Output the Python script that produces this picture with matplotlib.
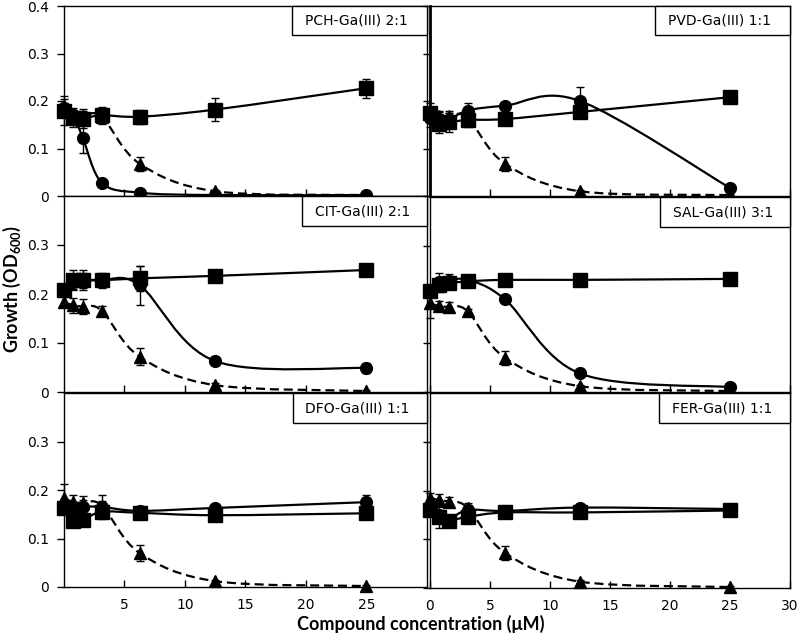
import numpy as np
import matplotlib
matplotlib.use("Agg")
import matplotlib.pyplot as plt
from matplotlib.path import Path
from matplotlib.patches import PathPatch, Rectangle

plt.rcParams["font.family"] = ["DejaVu Sans"]
plt.rcParams["mathtext.fontset"] = "custom"
plt.rcParams["mathtext.bf"] = "Lato:bold"
plt.rcParams["mathtext.rm"] = "Lato:bold"
plt.rcParams["lines.scale_dashes"] = False

# concentrations (uM)
conc = [0, 0.78, 1.56, 3.125, 6.25, 12.5, 25]

# PCH-Ga(III) 2:1
pch_sq = [0.180, 0.165, 0.163, 0.170, 0.167, 0.182, 0.227]
pch_sq_err = [0.030, 0.020, 0.020, 0.018, 0.015, 0.025, 0.020]
pch_ci = [0.185, 0.170, 0.122, 0.028, 0.007, 0.002, 0.002]
pch_ci_err = [0.010, 0.010, 0.032, 0.004, 0.003, 0.002, 0.002]
pch_tr = [0.190, 0.170, 0.168, 0.167, 0.068, 0.010, 0.002]
pch_tr_err = [0.015, 0.010, 0.010, 0.010, 0.015, 0.003, 0.002]

# PVD-Ga(III) 1:1
pvd_sq = [0.175, 0.152, 0.155, 0.160, 0.162, 0.177, 0.208]
pvd_sq_err = [0.020, 0.020, 0.020, 0.015, 0.005, 0.005, 0.005]
pvd_ci = [0.165, 0.162, 0.160, 0.180, 0.190, 0.200, 0.017]
pvd_ci_err = [0.020, 0.015, 0.015, 0.015, 0.005, 0.030, 0.005]
pvd_tr = [0.175, 0.168, 0.168, 0.165, 0.068, 0.010, 0.002]
pvd_tr_err = [0.010, 0.010, 0.010, 0.010, 0.015, 0.003, 0.002]

# CIT-Ga(III) 2:1
cit_sq = [0.208, 0.228, 0.228, 0.228, 0.232, 0.237, 0.249]
cit_sq_err = [0.010, 0.020, 0.020, 0.015, 0.025, 0.005, 0.005]
cit_ci = [0.210, 0.225, 0.228, 0.228, 0.218, 0.063, 0.049]
cit_ci_err = [0.010, 0.015, 0.015, 0.010, 0.040, 0.005, 0.010]
cit_tr = [0.183, 0.177, 0.174, 0.166, 0.072, 0.014, 0.002]
cit_tr_err = [0.010, 0.015, 0.015, 0.010, 0.017, 0.004, 0.002]

# SAL-Ga(III) 3:1
sal_sq = [0.208, 0.220, 0.223, 0.227, 0.230, 0.230, 0.232]
sal_sq_err = [0.010, 0.010, 0.010, 0.005, 0.005, 0.005, 0.005]
sal_ci = [0.210, 0.225, 0.228, 0.230, 0.190, 0.038, 0.010]
sal_ci_err = [0.010, 0.020, 0.015, 0.005, 0.005, 0.005, 0.004]
sal_tr = [0.182, 0.176, 0.174, 0.166, 0.070, 0.012, 0.002]
sal_tr_err = [0.030, 0.010, 0.010, 0.005, 0.015, 0.003, 0.002]

# DFO-Ga(III) 1:1
dfo_sq = [0.163, 0.136, 0.138, 0.155, 0.153, 0.148, 0.152]
dfo_sq_err = [0.010, 0.010, 0.010, 0.010, 0.005, 0.005, 0.005]
dfo_ci = [0.163, 0.155, 0.165, 0.165, 0.157, 0.163, 0.175]
dfo_ci_err = [0.010, 0.010, 0.015, 0.025, 0.008, 0.005, 0.015]
dfo_tr = [0.183, 0.175, 0.173, 0.168, 0.070, 0.012, 0.002]
dfo_tr_err = [0.030, 0.015, 0.015, 0.010, 0.017, 0.003, 0.002]

# FER-Ga(III) 1:1
fer_sq = [0.160, 0.145, 0.138, 0.146, 0.155, 0.155, 0.159]
fer_sq_err = [0.010, 0.022, 0.005, 0.010, 0.010, 0.005, 0.005]
fer_ci = [0.160, 0.150, 0.140, 0.160, 0.158, 0.165, 0.162]
fer_ci_err = [0.010, 0.010, 0.005, 0.010, 0.010, 0.005, 0.005]
fer_tr = [0.185, 0.180, 0.177, 0.165, 0.072, 0.013, 0.002]
fer_tr_err = [0.010, 0.012, 0.010, 0.010, 0.015, 0.003, 0.002]

labels = ["PCH-Ga(III) 2:1", "PVD-Ga(III) 1:1", "CIT-Ga(III) 2:1",
          "SAL-Ga(III) 3:1", "DFO-Ga(III) 1:1", "FER-Ga(III) 1:1"]

W, H = 800, 637
fig = plt.figure(figsize=(W / 100, H / 100), dpi=100)


def px_axes(left, top, right, bottom):
    return fig.add_axes([left / W, 1 - bottom / H, (right - left) / W, (bottom - top) / H])


def smooth(ax, x, y, **kw):
    # Excel-like smoothed line (Catmull-Rom as cubic Bezier)
    pts = np.column_stack([x, y]).astype(float)
    n = len(pts)
    verts = [pts[0]]
    codes = [Path.MOVETO]
    for i in range(n - 1):
        p0 = pts[max(i - 1, 0)]
        p1 = pts[i]
        p2 = pts[i + 1]
        p3 = pts[min(i + 2, n - 1)]
        verts += [p1 + (p2 - p0) / 6, p2 - (p3 - p1) / 6, p2]
        codes += [Path.CURVE4] * 3
    ax.add_patch(PathPatch(Path(verts, codes), fill=False, clip_on=False, **kw))


def draw_panel(ax, sq, sq_e, ci, ci_e, tr, tr_e, label, box_x, left_col, top_row, bottom_row):
    ax.set_xlim(0, 30)
    ax.set_ylim(0, 0.4)
    smooth(ax, conc, tr, color="k", lw=1.6, linestyle=(0, (6.5, 3.5)), zorder=2)
    smooth(ax, conc, ci, color="k", lw=1.6, zorder=2)
    smooth(ax, conc, sq, color="k", lw=1.6, zorder=2)
    kw = dict(ls="none", color="k", ecolor="k", elinewidth=1, capsize=3, capthick=1, clip_on=False, zorder=3)
    ax.errorbar(conc, tr, yerr=tr_e, fmt="^", ms=9, **kw)
    ax.errorbar(conc, ci, yerr=ci_e, fmt="o", ms=8.5, **kw)
    ax.errorbar(conc, sq, yerr=sq_e, fmt="s", ms=9.5, **kw)
    for s in ax.spines.values():
        s.set_linewidth(1)
        s.set_color("k")
    ax.tick_params(axis="x", direction="in", length=5, width=1, labelsize=10, pad=8)
    ax.tick_params(axis="y", direction="out", length=5, width=1, labelsize=10, pad=6)
    if left_col:
        ax.set_xticks([5, 10, 15, 20, 25])
    else:
        ax.set_xticks([0, 5, 10, 15, 20, 25, 30])
    if not bottom_row:
        ax.set_xticklabels([])
    yt = [0, 0.1, 0.2, 0.3, 0.4] if top_row else [0, 0.1, 0.2, 0.3]
    ax.set_yticks(yt)
    if left_col:
        ax.set_yticklabels(["0" if v == 0 else f"{v:.1f}" for v in yt])
    else:
        ax.set_yticklabels([])
    box_h = 0.155
    ax.add_patch(Rectangle((box_x, 1 - box_h), 1 - box_x, box_h, transform=ax.transAxes,
                           fill=True, facecolor="white", edgecolor="k", lw=1, zorder=5, clip_on=False))
    ax.text(box_x + 0.035, 1 - box_h / 2, label, transform=ax.transAxes, ha="left", va="center",
            fontsize=10, zorder=6)


# left column first, right column drawn over its right edge
ax1 = px_axes(64, 6, 427, 196)
draw_panel(ax1, pch_sq, pch_sq_err, pch_ci, pch_ci_err, pch_tr, pch_tr_err, labels[0], 0.628, True, True, False)
ax3 = px_axes(64, 196, 427, 392)
draw_panel(ax3, cit_sq, cit_sq_err, cit_ci, cit_ci_err, cit_tr, cit_tr_err, labels[2], 0.656, True, False, False)
ax5 = px_axes(64, 393, 427, 587)
draw_panel(ax5, dfo_sq, dfo_sq_err, dfo_ci, dfo_ci_err, dfo_tr, dfo_tr_err, labels[4], 0.63, True, False, True)

ax2 = px_axes(430, 6, 790, 196)
draw_panel(ax2, pvd_sq, pvd_sq_err, pvd_ci, pvd_ci_err, pvd_tr, pvd_tr_err, labels[1], 0.626, False, True, False)
ax2.spines["left"].set_linewidth(2)
ax4 = px_axes(430, 197, 790, 392)
draw_panel(ax4, sal_sq, sal_sq_err, sal_ci, sal_ci_err, sal_tr, sal_tr_err, labels[3], 0.64, False, False, False)
ax6 = px_axes(430, 393, 790, 588)
draw_panel(ax6, fer_sq, fer_sq_err, fer_ci, fer_ci_err, fer_tr, fer_tr_err, labels[5], 0.637, False, False, True)

fig.text(12 / W, 1 - 289 / H, r"Growth (OD$_\mathbf{600}$)", rotation=90, ha="center", va="center",
         fontsize=13, fontweight="bold", family=["Lato", "DejaVu Sans"])
fig.text(421 / W, 1 - 624 / H, "Compound concentration (μM)", ha="center", va="center",
         fontsize=13, fontweight="bold", family=["Lato", "DejaVu Sans"])

fig.savefig("out.png", dpi=100)
